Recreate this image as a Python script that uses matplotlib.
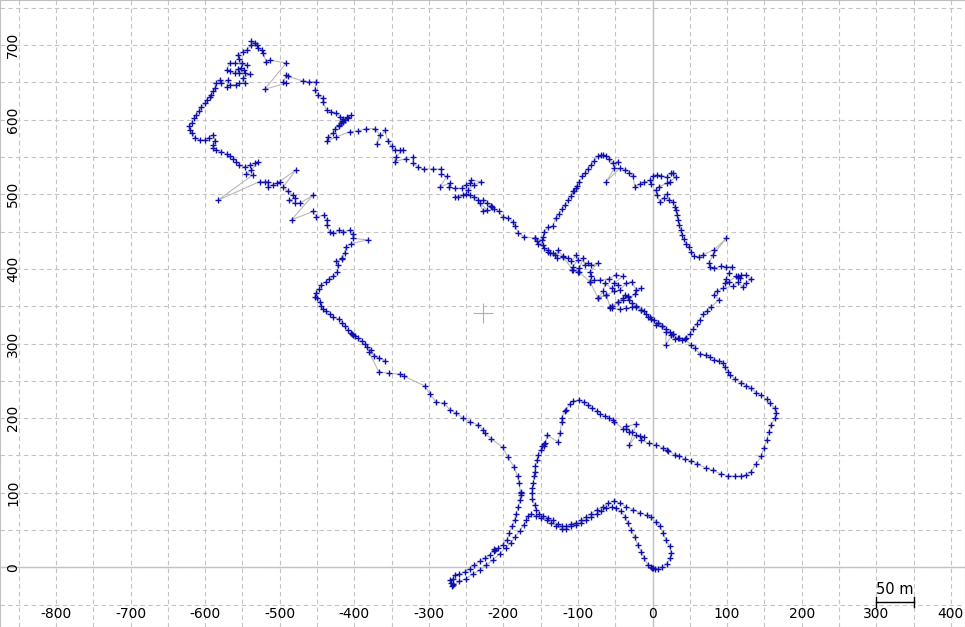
import matplotlib
matplotlib.use("Agg")
import matplotlib.pyplot as plt
import numpy as np

# track segments in metres (x east, y north) in route order
top_left = [
    (-330, 548), (-346, 544), (-344, 550), (-335, 560), (-339, 559), (-346, 560), (-350, 565),
    (-355, 571), (-359, 586), (-370, 568), (-366, 580), (-372, 588), (-384, 588), (-395, 585),
    (-406, 584), (-424, 577), (-437, 571), (-435, 577), (-428, 582), (-426, 588), (-421, 592),
    (-418, 596), (-420, 593), (-415, 597), (-412, 600), (-408, 602), (-404, 606), (-410, 603),
    (-416, 598), (-415, 601), (-419, 604), (-424, 609), (-431, 611), (-437, 613), (-442, 624),
    (-442, 629), (-448, 633), (-453, 640), (-451, 651), (-460, 651), (-469, 652), (-489, 658),
    (-491, 660), (-495, 650), (-491, 649), (-520, 641), (-491, 676), (-513, 680), (-518, 678),
    (-522, 689), (-524, 694), (-529, 696), (-533, 703), (-538, 705), (-531, 700), (-538, 700),
    (-544, 694), (-549, 691), (-556, 687), (-554, 682), (-551, 676), (-544, 673), (-560, 676),
    (-567, 676), (-571, 667), (-567, 665), (-560, 662), (-556, 668), (-552, 670), (-548, 666),
    (-554, 662), (-547, 662), (-540, 661), (-549, 656), (-547, 649), (-554, 649), (-558, 647),
    (-567, 647), (-571, 644), (-569, 653), (-578, 649), (-580, 653), (-585, 649), (-587, 642),
    (-589, 638), (-592, 633), (-594, 631), (-598, 627), (-600, 622), (-605, 617), (-608, 612),
    (-612, 606), (-615, 602), (-618, 596), (-621, 591), (-620, 586), (-617, 582), (-614, 576),
    (-607, 573), (-600, 573), (-595, 576), (-589, 580), (-587, 572), (-589, 566), (-589, 562),
    (-586, 560), (-578, 557), (-571, 554), (-567, 551), (-562, 548), (-558, 544), (-554, 539),
    (-547, 537), (-540, 539), (-533, 542), (-529, 544), (-538, 532), (-545, 527), (-536, 526),
    (-583, 492), (-527, 517), (-520, 517), (-516, 517), (-516, 510), (-509, 513), (-504, 515),
    (-500, 517), (-478, 533), (-495, 510), (-489, 504), (-482, 499), (-480, 495), (-487, 492),
    (-480, 488), (-473, 488), (-455, 499), (-484, 466), (-455, 477), (-451, 470), (-440, 472),
    (-437, 466), (-437, 459), (-433, 450), (-428, 448), (-420, 452), (-415, 450), (-406, 452),
    (-402, 447), (-402, 441), (-382, 439), (-404, 434), (-411, 430), (-413, 421), (-417, 414),
]

left_descent = [
    (-417, 413), (-424, 411), (-422, 405), (-423, 396), (-428, 390), (-434, 386), (-438, 383),
    (-444, 379), (-447, 373), (-451, 368), (-453, 363), (-450, 361), (-446, 356), (-444, 350),
    (-442, 346), (-438, 343), (-433, 339), (-428, 335), (-420, 333), (-416, 328), (-413, 323),
    (-408, 318), (-404, 314), (-403, 313), (-401, 312), (-399, 310), (-395, 307), (-390, 303),
    (-386, 299), (-383, 296), (-377, 291), (-373, 283), (-367, 280), (-359, 277), (-380, 288),
    (-367, 262), (-353, 260), (-339, 259), (-333, 256), (-305, 243), (-299, 233), (-290, 221),
    (-279, 220), (-272, 211), (-263, 207), (-254, 200), (-245, 195), (-234, 191), (-227, 184),
    (-225, 180), (-216, 172), (-201, 161), (-194, 148), (-186, 135), (-181, 122), (-179, 113),
    (-177, 99), (-176, 101), (-177, 97), (-178, 90), (-180, 81), (-183, 72), (-185, 63),
    (-188, 55), (-192, 46), (-195, 37), (-201, 30), (-207, 26), (-211, 23), (-212, 24),
    (-213, 22), (-218, 17), (-225, 12), (-232, 8), (-239, 3), (-245, -2), (-252, -6),
    (-259, -9), (-265, -10), (-268, -15), (-272, -17), (-270, -21), (-268, -24), (-267, -23),
    (-269, -25),
]

return_up = [
    (-259, -19), (-250, -15), (-241, -9), (-232, -4), (-223, 3), (-214, 10), (-205, 18),
    (-197, 26), (-190, 33), (-184, 41), (-178, 49), (-173, 57), (-169, 63), (-167, 69),
    (-163, 72),
]

s_curve = [
    (-156, 69), (-149, 66), (-142, 63), (-136, 60), (-129, 55), (-122, 52), (-116, 51),
    (-109, 55), (-102, 57), (-96, 60), (-89, 63), (-82, 68), (-75, 72), (-69, 75), (-62, 79),
    (-55, 81), (-49, 79), (-42, 75), (-37, 68), (-33, 59), (-29, 50), (-24, 41), (-20, 30),
    (-15, 21), (-11, 12), (-6, 3), (-2, 0), (-1, -1), (0, -1), (3, -2), (7, -2), (13, 0),
    (19, 5), (24, 12), (25, 19), (23, 28), (18, 37), (14, 46), (10, 55), (5, 61), (-2, 67),
    (-8, 70), (-17, 73), (-26, 77), (-35, 81), (-44, 86), (-52, 89), (-60, 86), (-67, 81),
    (-75, 77), (-82, 72), (-89, 68), (-96, 63), (-102, 60), (-109, 58), (-116, 55),
    (-121, 55), (-127, 58), (-134, 63), (-140, 66), (-147, 69), (-152, 72), (-156, 77),
    (-158, 84), (-161, 91),
]

right_branch = [
    (-162, 99), (-161, 106), (-160, 113), (-159, 122), (-158, 128), (-157, 136), (-155, 144),
    (-153, 151), (-150, 157), (-148, 162), (-146, 163), (-145, 165), (-144, 166), (-141, 177),
]

arc = [
    (-127, 168), (-124, 180), (-122, 195), (-122, 200), (-118, 209), (-116, 211), (-111, 219),
    (-106, 223), (-99, 224), (-92, 222), (-87, 218), (-81, 213), (-75, 210), (-70, 206),
    (-64, 203), (-58, 200), (-53, 198), (-51, 195), (-40, 186), (-35, 185), (-31, 182),
    (-28, 181), (-35, 189), (-22, 192), (-31, 164), (-22, 177), (-17, 176), (-12, 175),
    (-15, 171), (-5, 166), (5, 164), (14, 160), (19, 157), (21, 156), (30, 151), (36, 149),
    (43, 145), (52, 143), (59, 139), (72, 133), (81, 130), (92, 125), (101, 123), (110, 122),
    (119, 122), (126, 124), (132, 128), (139, 139), (146, 149), (149, 160), (153, 171),
    (156, 182), (159, 191), (164, 200), (165, 207), (164, 213), (157, 220), (153, 225),
    (146, 231), (139, 234), (132, 240), (126, 243), (119, 247), (110, 253), (104, 258),
    (101, 262), (97, 268), (94, 274), (89, 277), (83, 278), (77, 282), (72, 285), (63, 286),
    (57, 294), (52, 298), (43, 306), (36, 307), (30, 306), (25, 311), (18, 316), (18, 298),
    (27, 313), (13, 323), (7, 327), (5, 325),
]

mess_1 = [
    (-2, 333), (-6, 336), (-11, 343), (-15, 345), (-22, 349), (-28, 349), (-35, 347),
    (-44, 346), (-57, 347), (-55, 350), (-46, 356), (-40, 361), (-37, 365), (-33, 363),
    (-31, 358), (-24, 367), (-15, 374), (-22, 372), (-28, 383), (-35, 381), (-44, 372),
    (-51, 370), (-62, 365), (-73, 361), (-66, 370), (-64, 381), (-55, 374), (-46, 379),
    (-51, 381), (-40, 390), (-49, 392), (-58, 387), (-71, 385), (-78, 385), (-84, 383),
    (-82, 390), (-84, 396), (-73, 408), (-82, 405), (-87, 408), (-91, 405), (-93, 414),
    (-98, 401), (-100, 396), (-108, 399), (-107, 403), (-100, 412), (-102, 419), (-109, 410),
    (-113, 414), (-120, 417), (-127, 425), (-128, 414), (-131, 419), (-137, 421), (-140, 423),
    (-145, 428), (-147, 432), (-155, 437), (-158, 441), (-148, 439), (-147, 443),
]

rising = [
    (-145, 450), (-140, 456), (-134, 457), (-130, 468), (-125, 474), (-121, 480), (-117, 486),
    (-113, 492), (-109, 498), (-106, 504), (-105, 505), (-103, 508), (-101, 511), (-98, 517),
    (-94, 524), (-91, 528), (-87, 534), (-82, 539), (-78, 545), (-73, 551), (-69, 553),
]

right_loop = [
    (-66, 553), (-62, 551), (-58, 547), (-53, 542), (-46, 544), (-51, 535), (-62, 517),
    (-44, 535), (-37, 533), (-31, 529), (-26, 524), (-24, 510), (-17, 514), (-11, 516),
    (-4, 519), (-2, 514), (1, 525), (6, 526), (12, 525), (19, 523), (25, 528), (28, 529),
    (31, 523), (23, 517), (19, 515), (9, 510), (4, 506), (6, 499), (10, 490), (15, 495),
    (19, 500), (22, 493), (27, 490), (30, 483), (31, 479), (33, 472), (34, 466), (36, 459),
    (38, 452), (39, 446), (42, 440), (45, 434), (49, 429), (52, 423), (55, 417), (62, 416),
    (68, 419), (83, 426), (99, 441), (81, 419), (76, 408), (77, 402), (83, 401), (92, 404),
    (99, 403), (106, 403), (102, 394), (99, 387), (97, 381), (102, 383), (112, 390),
    (114, 389), (115, 391), (117, 388), (119, 392), (126, 392), (132, 386), (126, 381),
    (121, 376), (114, 382), (108, 377), (94, 374), (86, 370), (82, 365), (89, 359), (79, 349),
    (73, 344), (68, 339), (63, 332), (59, 326), (54, 319), (50, 313), (45, 307), (40, 305),
    (34, 307), (27, 313), (23, 316), (18, 319), (13, 323), (7, 327), (2, 332), (-4, 336),
    (-9, 340), (-15, 345), (-22, 350), (-28, 354),
]

mess_2 = [
    (-33, 364), (-40, 359), (-46, 356), (-55, 347), (-57, 349), (-62, 365), (-73, 361),
    (-84, 383), (-99, 396), (-107, 399), (-120, 416), (-134, 421), (-140, 425), (-154, 434),
    (-158, 441), (-172, 443), (-180, 448),
]

middle_diag = [
    (-184, 458), (-187, 463), (-194, 468), (-201, 470), (-206, 477), (-213, 481), (-216, 484),
    (-217, 485), (-215, 483), (-222, 488), (-227, 492), (-232, 489), (-234, 492), (-227, 477),
    (-222, 479), (-239, 497), (-245, 499), (-265, 497), (-261, 497), (-254, 499), (-250, 501),
    (-247, 506), (-239, 513), (-230, 517), (-243, 519), (-245, 515), (-250, 513), (-256, 508),
    (-265, 508), (-273, 510), (-272, 515), (-285, 510), (-276, 524), (-283, 527), (-283, 534),
    (-294, 534), (-306, 534), (-314, 536), (-321, 542), (-321, 550),
]

x_ticks = list(range(-800, 401, 100))
y_ticks = list(range(0, 701, 100))
centre_mark = (-228, 341)
scale_len = 50

track = (top_left + left_descent + return_up + s_curve + right_branch + arc + mess_1
         + rising + right_loop + mess_2 + middle_diag)
xs = [p[0] for p in track]
ys = [p[1] for p in track]

fig = plt.figure(figsize=(9.65, 6.27), dpi=100)
ax = fig.add_axes([0, 0, 1, 1])
ax.set_xlim(-875, 419)
ax.set_ylim(-80, 760.5)

ax.set_xticks(np.arange(-850, 401, 50))
ax.set_yticks(np.arange(-50, 751, 50))
ax.grid(True, color="#c4c4c4", linestyle=(0, (4, 3)), linewidth=0.8)
ax.tick_params(length=0, labelbottom=False, labelleft=False)
ax.axhline(0, color="#c0c0c0", lw=1, zorder=1)
ax.axvline(0, color="#c0c0c0", lw=1, zorder=1)
for sp in ax.spines.values():
    sp.set_color("#c0c0c0")

for v in x_ticks:
    ax.text(v, 13 / 627, str(v), transform=ax.get_xaxis_transform(),
            ha="center", va="center", fontsize=10)
for v in y_ticks:
    ax.text(13 / 965, v, str(v), transform=ax.get_yaxis_transform(),
            ha="center", va="center", rotation=90, fontsize=10)

ax.plot(xs, ys, color="#b8b8b8", lw=0.8, zorder=3)
ax.plot(xs, ys, ls="none", marker="+", ms=4, mew=1, color="#1010b0", zorder=4)

ax.plot(*centre_mark, marker="+", ms=14, mew=0.8, color="#b0b0b0", zorder=2)

# scale bar
ax.plot([300, 300 + scale_len], [-46, -46], color="black", lw=1)
ax.plot([300, 300], [-40, -53], color="black", lw=1)
ax.plot([300 + scale_len, 300 + scale_len], [-40, -53], color="black", lw=1)
ax.text(325, -30, "50 m", ha="center", va="center", fontsize=10.5)

fig.savefig("out.png", dpi=100)
